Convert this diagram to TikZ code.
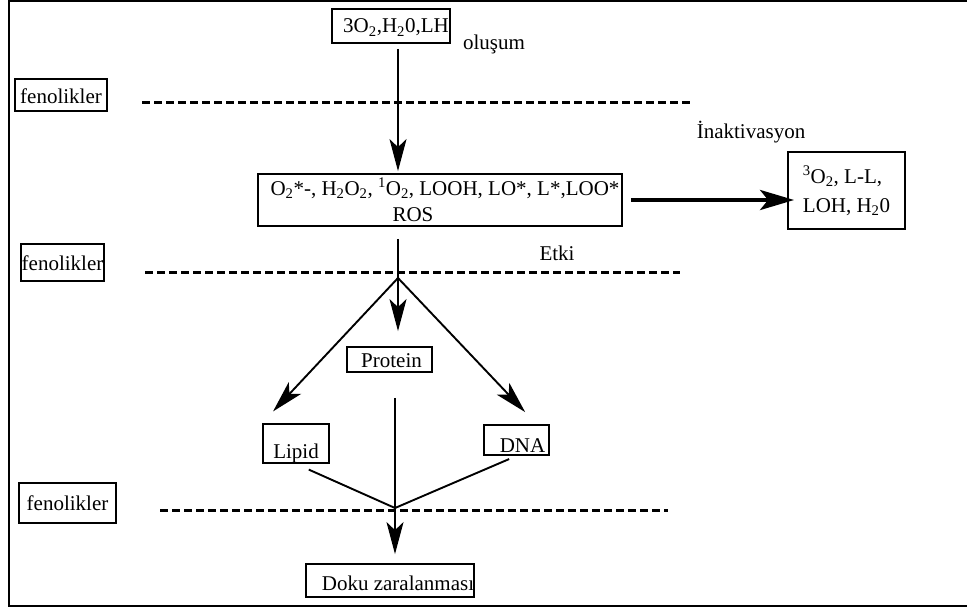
\documentclass[tikz,border=0pt]{standalone}
\usepackage{fontspec}
\setmainfont{Liberation Serif}
\usetikzlibrary{arrows.meta, calc}

\begin{document}
\begin{tikzpicture}[x=1pt, y=-1pt, font=\fontsize{21}{25}\selectfont, line width=1.9pt,
    box/.style={rectangle, draw, line width=1.8pt, inner sep=0pt},
    flow/.style={-{Stealth[length=32pt, width=17pt, inset=8pt]}},
    barrier/.style={line width=3pt, dash pattern=on 7.5pt off 4.5pt}]
            \useasboundingbox (0,0) rectangle (967,610);
            \draw[line width=2.2pt] (9,1) rectangle (985,606);

            % --- Nodes Placement ---
            \node[box, minimum width=118pt, minimum height=34pt, text height=24pt, text depth=10pt] (source) at (391,26) {\hspace*{10pt}3O\textsubscript{2},H\textsubscript{2}0,LH};
            \node[box, minimum width=364pt, minimum height=52pt, align=center] (ros) at (440,200) {\hspace*{10pt}O\textsubscript{2}*-, H\textsubscript{2}O\textsubscript{2}, \textsuperscript{1}O\textsubscript{2}, LOOH, LO*, L*,LOO*\\[1pt]\hspace*{-54pt}ROS};
            \node[box, minimum width=117pt, minimum height=77pt, align=center] (inact) at (846.5,190.5) {\hspace*{-8pt}\textsuperscript{3}O\textsubscript{2}, L-L,\\[4pt]LOH, H\textsubscript{2}0};

            \node[box, minimum width=92pt, minimum height=32pt, text height=24pt, text depth=8pt] (fen1) at (61,95) {fenolikler};
            \node[box, minimum width=83pt, minimum height=37pt, text height=26pt, text depth=11pt] (fen2) at (62.5,262.5) {fenolikler};
            \node[box, minimum width=97pt, minimum height=40pt, text height=27pt, text depth=13pt] (fen3) at (67.5,503) {fenolikler};

            \node[box, minimum width=85pt, minimum height=25pt, text height=20pt, text depth=5pt] (protein) at (389.5,359.5) {\hspace*{4pt}Protein};
            \node[box, minimum width=66pt, minimum height=39pt, text height=34pt, text depth=5pt] (lipid) at (296,443.5) {Lipid};
            \node[box, minimum width=65pt, minimum height=30pt, text height=27pt, text depth=3pt] (dna) at (516.5,440) {\hspace*{12pt}DNA};
            \node[box, minimum width=164pt, minimum height=33pt, text height=26pt, text depth=7pt] (doku) at (390,580.5) {\hspace*{16pt}Doku zaralanması};

            \node (olusum) at (494,44) {oluşum};
            \node (inaktivasyon) at (751,132) {İnaktivasyon};
            \node (etki) at (557,253) {Etki};

            \coordinate (split) at (398,278);
            \coordinate (merge) at (395,508);

            % --- Dashed Levels ---
            \draw[barrier] (142,102) -- (693,102);
            \draw[barrier] (145,272) -- (680,272);
            \draw[barrier] (160,510) -- (668,510);

            % --- Connections ---
            \draw[flow, shorten <=5pt, shorten >=2pt] (source.south -| split) -- (ros.north -| split);
            \draw[line width=4.2pt, -{Stealth[length=34pt, width=20pt, inset=8pt]}, shorten <=8pt, shorten >=-7pt] (ros.east) -- (ros.east -| inact.west);
            \draw[shorten <=12pt] (ros.south -| split) -- (split);

            \draw[flow, shorten >=16pt] (split) -- (lipid.north west);
            \draw[flow, shorten >=15pt] (split) -- (protein.north -| split);
            \draw[flow, shorten >=16.5pt] (split) -- ($(dna.north)!0.6!(dna.north east)$);

            \draw[shorten <=25pt] (protein.south -| merge) -- (merge);
            \draw[shorten <=14pt] (lipid.south) -- (merge);
            \draw[shorten <=8pt] (dna.south) -- (merge);
            \draw[flow, shorten >=9pt] (merge) -- (doku.north -| merge);
\end{tikzpicture}
\end{document}
